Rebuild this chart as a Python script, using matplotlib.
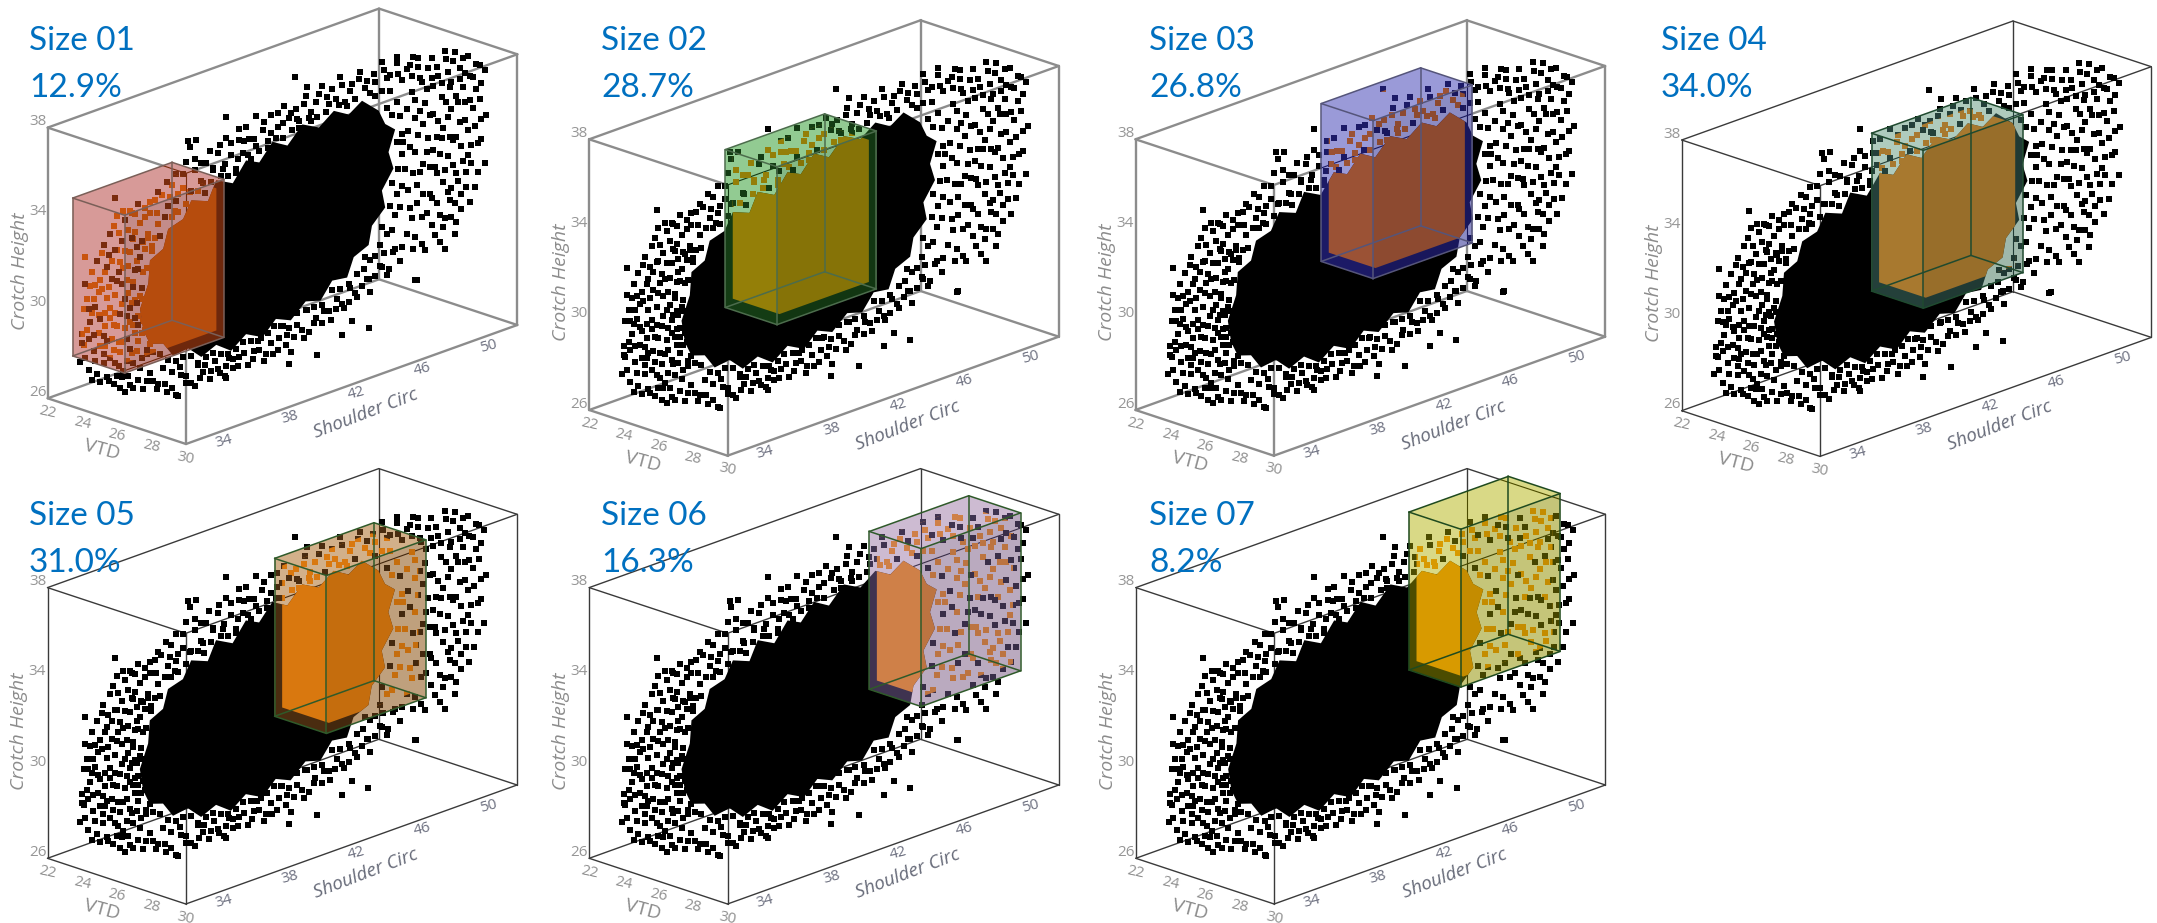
import numpy as np
import matplotlib
matplotlib.use('Agg')
import matplotlib.pyplot as plt
from matplotlib.patches import Polygon
from matplotlib.path import Path

# what the picture shows
size_names = ['Size 01', 'Size 02', 'Size 03', 'Size 04', 'Size 05', 'Size 06', 'Size 07']
size_shares = ['12.9%', '28.7%', '26.8%', '34.0%', '31.0%', '16.3%', '8.2%']

vtd_ticks = [22, 24, 26, 28, 30]
shoulder_ticks = [34, 38, 42, 46, 50]
crotch_ticks = [26, 30, 34, 38]

# lower corner of each size box, all boxes are the same width
box_shoulder = [29.9, 36.6, 39.6, 39.85, 42.1, 45.3, 44.88]
box_crotch = [28.8, 29.7, 30.95, 29.6, 30.0, 30.35, 31.32]
box_vtd = (24.5, 27.5)
box_shoulder_width = 6.0
box_crotch_height = 7.0

# The real cloud has thousands of points that can't be read one by one.
# These are hand placed estimates (shoulder, crotch) of the visible scatter,
# and the solid middle of the cloud is an outline. VTD is taken as 26.
cloud_points = [
    (28.8, 29.2), (28.9, 30.4), (29.0, 31.5), (29.1, 32.6), (29.0, 29.9), (29.3, 28.7), (29.4, 30.8), (29.2, 31.9), (29.5, 33.0), (29.6, 29.5),
    (29.8, 28.4), (29.9, 30.2), (29.7, 31.4), (30.0, 32.5), (30.1, 33.7), (30.2, 29.2), (30.3, 31.0), (30.4, 28.1), (30.2, 30.0), (29.9, 32.0),
    (30.5, 32.1), (30.6, 34.4), (30.7, 29.7), (30.6, 30.7), (30.8, 27.7), (30.7, 33.2), (30.9, 31.6), (30.9, 28.6), (31.0, 35.1), (31.0, 30.2),
    (31.1, 32.6), (31.2, 27.4), (31.2, 29.0), (31.3, 33.9), (31.3, 31.1), (31.4, 28.1), (31.5, 34.8), (31.5, 30.0), (31.6, 32.1), (31.6, 29.5),
    (31.7, 27.8), (31.8, 33.3), (31.8, 30.8), (31.9, 35.0), (31.9, 28.8), (32.0, 31.7), (32.0, 27.2), (32.1, 34.1), (32.1, 30.3), (32.2, 32.8),
    (32.3, 29.2), (32.3, 35.3), (32.4, 28.0), (32.4, 31.2), (32.5, 33.6), (32.6, 30.0), (32.6, 27.0), (32.7, 34.6), (32.8, 28.7), (32.8, 32.3),
    (33.0, 35.2), (33.0, 27.6), (33.1, 33.2), (33.4, 26.8), (33.5, 35.5), (29.5, 31.2), (30.0, 29.6), (30.4, 33.0), (30.3, 29.5), (31.0, 33.6),
    (31.1, 28.4), (31.7, 31.5), (31.4, 32.7), (32.2, 30.9), (32.5, 29.5), (32.0, 33.8), (29.3, 30.1), (29.7, 32.4), (30.8, 30.3),
    (28.9, 30.0), (29.1, 29.3), (29.2, 30.5), (29.3, 31.4), (29.4, 32.4), (29.5, 28.2), (29.6, 30.2), (29.6, 31.8), (29.7, 29.0), (29.8, 33.4),
    (29.9, 31.0), (30.0, 28.0), (30.0, 30.8), (30.1, 32.1), (30.2, 28.8), (30.2, 34.0), (30.3, 30.4), (30.3, 32.8), (30.4, 29.7), (30.4, 31.6),
    (30.5, 27.9), (30.5, 33.5), (30.6, 31.1), (30.6, 28.9), (30.7, 32.4), (30.8, 29.2), (30.8, 34.7), (30.9, 33.6), (30.9, 30.8), (31.0, 28.0),
    (31.0, 32.2), (31.1, 29.5), (31.1, 34.3), (31.2, 30.7), (31.2, 33.0), (31.3, 27.9), (31.3, 32.0), (31.4, 29.4), (31.4, 35.2), (31.5, 31.3),
    (31.5, 33.4), (31.6, 28.5), (31.6, 30.5), (31.7, 34.3), (31.7, 32.7), (31.8, 29.0), (31.8, 27.4), (31.9, 31.0), (31.9, 33.9), (32.0, 30.0),
    (32.0, 28.3), (32.1, 32.4), (32.1, 34.9), (32.2, 28.8), (32.2, 33.4), (32.3, 30.3), (32.3, 27.5), (32.4, 32.9), (32.4, 34.4), (32.5, 31.0),
    (32.5, 28.4), (32.6, 33.5), (32.7, 29.6), (32.7, 35.0), (32.8, 27.3), (32.9, 33.8), (33.0, 28.9), (33.0, 34.7), (33.2, 27.2), (33.3, 35.2),
    (32.1, 29.6), (32.3, 29.9), (31.8, 30.2), (32.1, 31.1), (32.5, 31.5), (32.0, 31.9), (32.6, 32.2), (32.3, 32.4), (32.7, 33.2), (33.1, 33.0),
    # upper side of the cloud
    (34.0, 35.8), (34.2, 35.1), (34.5, 34.4), (34.6, 36.0), (35.0, 35.3), (35.2, 36.4), (35.5, 35.0), (35.7, 35.9), (36.1, 36.1), (36.2, 35.2),
    (36.6, 36.5), (36.8, 35.6), (37.1, 36.3), (37.4, 35.5), (37.6, 36.8), (37.9, 36.0), (38.2, 35.3), (38.4, 36.5), (38.8, 37.0), (38.9, 35.7),
    (39.3, 36.3), (39.4, 37.3), (39.8, 36.6), (40.1, 36.0), (40.3, 37.1), (40.7, 36.5), (41.1, 37.3), (41.4, 36.7), (41.8, 37.0), (42.0, 36.1),
    (42.4, 37.4), (42.6, 36.4), (43.0, 37.0), (43.4, 37.6), (43.8, 36.7), (44.0, 37.3), (44.5, 37.7), (44.8, 36.5), (45.2, 37.2), (45.7, 37.6),
    (46.0, 36.8), (46.5, 37.3), (47.0, 37.7), (47.3, 36.9), (47.9, 37.4), (48.2, 36.6),
    (33.4, 34.6), (33.7, 35.3), (34.1, 34.7), (34.3, 35.6), (34.7, 35.1), (35.0, 35.9), (35.4, 35.0), (35.7, 36.4), (36.1, 35.3), (36.4, 36.0),
    (36.8, 35.7), (37.2, 36.6), (37.5, 35.7), (37.9, 36.5), (38.3, 35.7), (38.7, 36.4), (39.0, 36.4), (39.4, 36.0), (39.9, 36.9), (40.3, 36.3),
    (40.7, 37.1), (41.0, 36.6), (41.5, 36.9), (41.9, 36.5), (42.3, 37.1), (42.7, 36.6), (43.2, 37.3), (43.7, 37.0), (44.2, 36.8), (44.6, 37.3),
    (45.1, 36.9), (45.6, 37.3), (46.1, 37.1), (46.6, 36.9), (47.1, 37.3), (47.5, 37.0), (48.0, 36.9),
    (33.3, 33.5), (33.6, 33.5), (32.9, 33.6), (33.5, 34.1), (33.9, 34.3), (34.3, 34.2), (34.7, 34.3), (34.6, 34.8), (35.2, 34.5), (35.9, 34.9),
    (36.3, 34.7), (36.7, 35.1), (37.3, 35.2), (37.7, 35.1), (38.2, 35.1), (38.6, 35.9), (39.1, 35.5), (39.6, 35.7), (40.1, 35.7), (40.6, 36.0),
    (41.0, 35.9), (41.6, 36.1), (42.0, 36.4), (42.7, 36.2), (43.1, 36.3), (43.6, 36.4), (44.4, 36.5), (44.9, 36.3), (45.4, 36.5),
    # lower side of the cloud
    (33.8, 27.6), (34.0, 26.5), (34.3, 27.3), (34.6, 26.2), (34.9, 27.0), (35.2, 26.6), (35.7, 26.3), (35.9, 27.2), (36.2, 26.8), (36.6, 26.4),
    (36.9, 27.1), (37.1, 26.7), (37.5, 26.3), (37.8, 27.0), (38.0, 26.5), (38.4, 26.9), (38.9, 26.4), (39.3, 26.9), (39.7, 27.4), (39.9, 26.3),
    (40.3, 27.0), (40.7, 26.6), (40.9, 27.6), (41.3, 27.1), (41.5, 26.3), (41.9, 27.4), (42.3, 26.7), (42.5, 27.9), (42.9, 27.2), (43.5, 27.6),
    (43.9, 27.1), (44.3, 27.9), (44.7, 27.4), (45.1, 28.2), (45.5, 27.7), (46.1, 28.3), (46.3, 27.7), (46.9, 28.7), (47.3, 28.2), (47.7, 29.1),
    (48.1, 28.6), (33.5, 27.0), (33.9, 26.9), (34.3, 26.6), (34.8, 27.4), (35.2, 26.9), (35.5, 26.5), (36.0, 26.6), (36.3, 27.1), (36.7, 26.7),
    (37.2, 26.5), (37.6, 26.7), (38.0, 26.9), (38.3, 26.5), (38.7, 27.0), (39.2, 26.6), (39.6, 26.9), (40.0, 26.6), (40.4, 26.5), (40.8, 27.1),
    (41.2, 26.7), (41.7, 26.9), (42.2, 27.1), (42.6, 26.9), (43.0, 27.4), (43.4, 27.1), (43.8, 27.5), (44.2, 27.5), (44.6, 27.6), (45.0, 27.6),
    (45.4, 27.9), (45.8, 28.1), (46.2, 28.3), (46.6, 28.3), (47.0, 28.6), (47.4, 28.4), (47.8, 29.2), (48.2, 29.2),
    (32.8, 28.5), (33.2, 28.5), (33.6, 28.3), (34.1, 27.9), (34.6, 27.7), (35.0, 27.8), (35.5, 27.7), (35.9, 27.3), (36.4, 27.4), (36.8, 27.5),
    (37.3, 27.3), (37.7, 27.2), (38.2, 27.3), (38.6, 27.5), (39.1, 27.4), (39.5, 27.3), (40.1, 27.5), (40.5, 27.7), (41.0, 27.6), (41.4, 27.4),
    (41.9, 27.9), (42.4, 27.9), (42.9, 27.9), (43.4, 27.9), (44.0, 28.4), (44.5, 28.3), (45.0, 28.4),
    # right end of the cloud
    (48.4, 32.6), (48.5, 29.7), (48.6, 34.2), (48.7, 30.8), (48.8, 35.9), (48.9, 28.9), (49.0, 33.2), (49.1, 31.7), (49.2, 36.9), (49.3, 34.9),
    (49.4, 30.2), (49.5, 32.5), (49.6, 28.7), (49.7, 35.8), (49.8, 33.6), (49.9, 31.1), (50.0, 29.7), (50.0, 37.1), (50.1, 34.6), (50.2, 32.2),
    (50.3, 30.6), (50.4, 36.2), (50.5, 28.8), (50.6, 33.4), (50.6, 35.2), (50.7, 31.4), (50.8, 29.8), (50.9, 36.8), (51.0, 34.2), (51.0, 32.5),
    (51.1, 30.5), (51.2, 35.7), (51.3, 33.1), (51.4, 37.0), (51.5, 31.6), (51.5, 29.4), (51.6, 34.7), (51.7, 36.2), (51.8, 32.7), (51.8, 30.6),
    (51.9, 35.3), (52.0, 33.8), (52.1, 31.5), (52.2, 36.6), (52.3, 34.6), (52.3, 30.1), (52.4, 32.6), (52.5, 35.6), (52.6, 33.4), (52.7, 36.1),
    (52.8, 31.3), (52.9, 34.5), (53.0, 32.7), (53.0, 35.2), (49.4, 36.2), (49.0, 34.7), (48.7, 37.1), (50.3, 33.5), (51.2, 31.0), (52.0, 35.9),
    (48.5, 35.2), (48.6, 31.6), (48.7, 33.5), (48.8, 30.3), (48.8, 36.6), (48.9, 32.3), (49.0, 35.5), (49.0, 29.4), (49.1, 30.9), (49.2, 33.9),
    (49.3, 32.2), (49.3, 36.4), (49.4, 29.0), (49.5, 34.3), (49.5, 31.2), (49.6, 35.2), (49.7, 30.3), (49.7, 33.0), (49.8, 36.7), (49.9, 32.3),
    (49.9, 34.6), (50.0, 30.9), (50.1, 35.8), (50.1, 33.0), (50.2, 29.2), (50.3, 31.9), (50.3, 36.6), (50.4, 34.2), (50.5, 30.0), (50.5, 32.7),
    (50.6, 35.8), (50.7, 33.8), (50.7, 29.4), (50.8, 31.9), (50.8, 37.2), (50.9, 34.9), (51.0, 30.9), (51.0, 36.2), (51.1, 33.3), (51.2, 29.7),
    (51.2, 34.5), (51.3, 32.0), (51.3, 36.6), (51.4, 30.3), (51.5, 35.0), (51.5, 33.2), (51.6, 31.2), (51.7, 35.7), (51.7, 33.8), (51.8, 29.9),
    (51.9, 32.0), (51.9, 36.6), (52.0, 34.6), (52.1, 30.8), (52.2, 33.3), (52.3, 35.7), (52.4, 31.8), (52.5, 34.2), (52.6, 30.7), (52.7, 35.0),
    (52.8, 32.6), (52.9, 36.0), (53.0, 33.6), (48.5, 37.0), (48.9, 37.4), (50.0, 36.2), (51.1, 35.5), (52.2, 32.2),
    (47.3, 35.6), (47.6, 35.2), (47.9, 35.7), (48.1, 35.0), (48.2, 34.2), (47.9, 33.9), (48.2, 33.3), (48.0, 32.7), (48.3, 33.8), (47.6, 32.2),
    (47.9, 31.6), (48.2, 31.9), (47.5, 31.2), (47.8, 30.7), (48.1, 31.0), (47.0, 30.4), (47.3, 30.0), (47.6, 30.1), (46.9, 29.6), (46.6, 29.2),
    (47.1, 29.2), (46.3, 29.1), (45.9, 28.8), (45.5, 28.7), (46.0, 29.3), (47.5, 36.3), (47.0, 36.4), (46.6, 36.3), (46.3, 36.5),
    # isolated points
    (41.75, 38.4), (42.5, 37.8), (35.8, 37.2), (35.3, 37.3), (35.4, 37.0), (37.6, 37.75), (38.4, 37.0), (30.9, 35.9), (31.8, 35.1), (29.1, 33.8),
    (49.1, 27.5), (46.2, 26.1), (45.2, 26.7), (44.6, 26.25), (43.1, 25.75), (41.4, 25.77), (37.6, 26.15), (34.7, 26.13), (31.5, 27.17), (47.9, 37.7),
    (49.2, 37.3), (53.2, 35.7), (53.3, 33.7), (53.2, 31.6), (51.4, 28.9), (50.8, 28.4), (49.0, 27.5),
]

cloud_core = [
    (32.6, 29.6), (32.4, 30.6), (32.9, 31.6), (33.0, 32.6), (33.8, 32.9), (34.1, 33.7), (35.0, 33.9), (35.5, 34.6),
    (36.5, 34.3), (37.0, 35.1), (38.0, 34.7), (38.8, 35.5), (39.6, 35.2), (40.4, 35.9), (41.3, 35.5), (42.2, 36.2),
    (43.2, 35.8), (44.1, 36.3), (45.0, 35.9), (45.8, 36.3), (46.8, 35.6), (47.2, 34.9), (47.8, 34.5), (47.4, 33.6),
    (47.7, 32.8), (47.0, 32.0), (47.2, 31.2), (46.4, 30.6), (46.2, 29.8), (45.3, 29.5), (44.9, 28.7), (44.0, 28.8),
    (43.3, 28.1), (42.4, 28.3), (41.5, 27.7), (40.6, 28.0), (39.8, 27.4), (38.8, 27.8), (37.9, 27.3), (37.0, 27.8),
    (36.1, 27.5), (35.3, 28.1), (34.4, 28.0), (33.8, 28.7), (33.0, 28.9),
]

box_fill = ['#d79a98', '#92cb92', '#9a9ad8', '#afcbbd', '#d2b08a', '#cdbbd2', '#d9d986']
box_inner = ['#c9540f', '#947f08', '#9b5235', '#a8792f', '#d9780f', '#cf8048', '#d89a00']
box_dark = ['#7a2c0e', '#143c14', '#1c1a66', '#24403a', '#4a2c10', '#3f3350', '#4c4c00']
box_edge = ['#7a5f58', '#4c6c4c', '#55557a', '#1f4a2f', '#2f5a2a', '#2f5a2a', '#1f4a1f']

# layout, pixels of the 2157x923 picture
origins = [(47.7, 398.3), (589.2, 410.0), (1135.5, 410.0), (1681.7, 410.7),
           (47.5, 858.3), (589.2, 858.3), (1135.8, 858.3)]
text_pos = [(29, 50), (601, 50), (1149, 50), (1661, 50), (29, 525), (601, 525), (1149, 525)]
line_gap = 47
V_RANGE = (22, 30)
S_RANGE = (31, 51)
C_RANGE = (26, 38)
V_STEP = (138.3, 45.7)
S_STEP = (331.3, -119.0)
C_STEP = -270.7
GREY_CUBE = 3  # the first three plots have thicker grey frames
DOT = 17


def project(origin, v, s, c):
    v, s, c = np.asarray(v, float), np.asarray(s, float), np.asarray(c, float)
    fv = (v - V_RANGE[0]) / (V_RANGE[1] - V_RANGE[0])
    fs = (s - S_RANGE[0]) / (S_RANGE[1] - S_RANGE[0])
    fc = (c - C_RANGE[0]) / (C_RANGE[1] - C_RANGE[0])
    x = origin[0] + V_STEP[0] * fv + S_STEP[0] * fs
    y = origin[1] + V_STEP[1] * fv + S_STEP[1] * fs + C_STEP * fc
    return np.column_stack([x, y]) if x.ndim else np.array([x, y])


def box_edges(v, s, c):
    # the 12 edges of a box as pairs of (v, s, c) corners
    edges = []
    for a in c:
        edges += [((v[0], s[0], a), (v[0], s[1], a)), ((v[0], s[1], a), (v[1], s[1], a)),
                  ((v[1], s[1], a), (v[1], s[0], a)), ((v[1], s[0], a), (v[0], s[0], a))]
    for a in v:
        for b in s:
            edges.append(((a, b, c[0]), (a, b, c[1])))
    return edges


def draw_lines(ax, origin, edges, clip=None, **style):
    for p, q in edges:
        xy = project(origin, *zip(p, q))
        line, = ax.plot(xy[:, 0], xy[:, 1], solid_capstyle='round', **style)
        if clip is not None:
            line.set_clip_path(clip)


def draw_panel(ax, i):
    origin = origins[i]
    thick = i < GREY_CUBE
    cube = box_edges(V_RANGE, S_RANGE, C_RANGE)
    draw_lines(ax, origin, cube, color='#8c8c8c' if thick else '#3a3a3a', lw=1.7 if thick else 1.0, zorder=1)

    cloud = np.array(cloud_points)
    core = np.array(cloud_core)
    xy_points = project(origin, np.full(len(cloud), 26.0), cloud[:, 0], cloud[:, 1])
    xy_core = project(origin, np.full(len(core), 26.0), core[:, 0], core[:, 1])

    ax.add_patch(Polygon(xy_core, closed=True, fc='black', ec='none', zorder=2))
    ax.scatter(xy_points[:, 0], xy_points[:, 1], s=DOT, marker='s', c='black', lw=0, zorder=2)

    s0, s1 = box_shoulder[i], box_shoulder[i] + box_shoulder_width
    c0, c1 = box_crotch[i], box_crotch[i] + box_crotch_height
    v0, v1 = box_vtd
    outline = project(origin, [v0, v0, v1, v1, v1, v0], [s0, s1, s1, s1, s0, s0], [c1, c1, c1, c0, c0, c0])
    clip = Polygon(outline, closed=True, transform=ax.transData)

    ax.add_patch(Polygon(outline, closed=True, fc=box_fill[i], ec='none', zorder=3))
    draw_lines(ax, origin, cube, clip=clip, color=box_dark[i], lw=0.8, zorder=3)
    patch = ax.add_patch(Polygon(xy_core, closed=True, fc=box_dark[i], ec='none', zorder=3))
    patch.set_clip_path(clip)
    dots = ax.scatter(xy_points[:, 0], xy_points[:, 1], s=DOT, marker='s', c=box_dark[i], lw=0, zorder=3)
    dots.set_clip_path(clip)

    # the rim of a box only shows the cloud through, further in the points change colour
    middle = outline.mean(axis=0)
    inner = middle + 0.9 * (outline - middle)
    inner_clip = Polygon(inner, closed=True, transform=ax.transData)
    patch = ax.add_patch(Polygon(xy_core, closed=True, fc=box_inner[i], ec='none', zorder=4))
    patch.set_clip_path(inner_clip)
    dots = ax.scatter(xy_points[:, 0], xy_points[:, 1], s=DOT, marker='s', c=box_inner[i], lw=0, zorder=4)
    dots.set_clip_path(inner_clip)
    # outside the solid part some points stay dark
    loose = xy_points[~Path(xy_core).contains_points(xy_points)][::3]
    dots = ax.scatter(loose[:, 0], loose[:, 1], s=DOT, marker='s', c=box_dark[i], lw=0, zorder=4)
    dots.set_clip_path(inner_clip)

    face = project(origin, [v1, v1, v1, v1], [s0, s0, s1, s1], [c0, c1, c1, c0])
    ax.add_patch(Polygon(face, closed=True, fc='black', alpha=0.09, ec='none', zorder=5))
    draw_lines(ax, origin, box_edges((v0, v1), (s0, s1), (c0, c1)), color=box_edge[i], lw=1.1, zorder=6)

    # ticks and axis names
    tick_font = dict(family='Open Sans', fontsize=11, ha='center', va='center', zorder=7)
    for t in vtd_ticks:
        x, y = project(origin, t, S_RANGE[0], C_RANGE[0])
        ax.text(x, y + 14, str(t), color='#8f8f8f', rotation=-12, **tick_font)
    for t in shoulder_ticks:
        x, y = project(origin, V_RANGE[1], t, C_RANGE[0])
        ax.text(x - 12, y + 15, str(t), color='#6d7080', rotation=15, **tick_font)
    for t in crotch_ticks:
        x, y = project(origin, V_RANGE[0], S_RANGE[0], t)
        ax.text(x - 10, y - 6, str(t), color='#969696', **tick_font)

    x, y = project(origin, V_RANGE[0], S_RANGE[0], 32)
    ax.text(x - 28, y + 8, 'Crotch Height', family='Open Sans', style='italic', fontsize=14, color='#8c8c8c',
            rotation=90, ha='center', va='center', zorder=7)
    x, y = project(origin, 26, S_RANGE[0], C_RANGE[0])
    ax.text(x - 15, y + 29, 'VTD', family='Open Sans', fontsize=14, color='#8c8c8c',
            rotation=-15, ha='center', va='center', zorder=7)
    x, y = project(origin, V_RANGE[1], 42, C_RANGE[0])
    ax.text(x - 2, y + 35, 'Shoulder Circ', family='Open Sans', style='italic', fontsize=13.5, color='#666a78',
            rotation=21, ha='center', va='center', zorder=7)

    tx, ty = text_pos[i]
    ax.text(tx, ty, size_names[i], family='Lato', fontsize=24, color='#0070c0', va='baseline', zorder=8)
    ax.text(tx, ty + line_gap, size_shares[i], family='Lato', fontsize=24, color='#0070c0', va='baseline', zorder=8)


fig, ax = plt.subplots(figsize=(21.57, 9.23), dpi=100)
ax.set_position([0, 0, 1, 1])
ax.set_xlim(0, 2157)
ax.set_ylim(923, 0)
ax.set_axis_off()

for i in range(len(size_names)):
    draw_panel(ax, i)

fig.savefig('out.png', dpi=100, facecolor='white')
